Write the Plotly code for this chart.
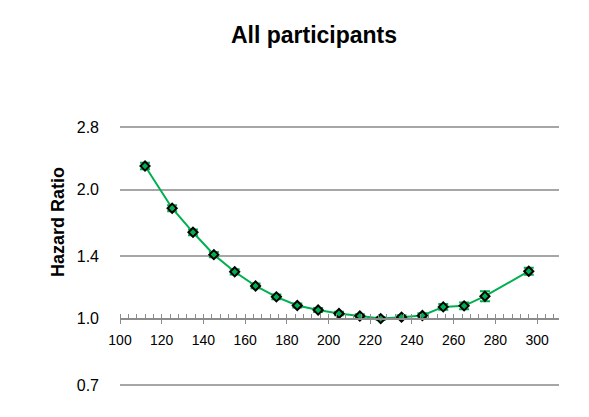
import plotly.graph_objects as go
import math

exposure = [112, 125, 135, 145, 155, 165, 175, 185, 195, 205, 215, 225, 235, 245, 255, 265, 275, 296]
hazard_ratio = [2.27, 1.81, 1.59, 1.41, 1.286, 1.192, 1.124, 1.073, 1.047, 1.028, 1.014, 1.0, 1.008, 1.017, 1.065, 1.071, 1.128, 1.29]
err_upper = [0.04, 0.03, 0.025, 0.02, 0.018, 0.015, 0.014, 0.012, 0.011, 0.01, 0.01, 0.008, 0.01, 0.012, 0.016, 0.02, 0.03, 0.025]
err_lower = [0.04, 0.03, 0.025, 0.02, 0.018, 0.015, 0.014, 0.012, 0.011, 0.01, 0.01, 0.008, 0.01, 0.012, 0.016, 0.02, 0.03, 0.025]

y_ticks = [0.7, 1.0, 1.4, 2.0, 2.8]
y_tick_text = ["0.7", "1.0", "1.4", "2.0", "2.8"]
x_ticks = [100, 120, 140, 160, 180, 200, 220, 240, 260, 280, 300]

GREEN = "#00B050"
OFF = 8  # default body margin of the html page

ymin, ymax = 0.6925, 2.830
pos = math.log(1.0 / ymin) / math.log(ymax / ymin)

fig = go.Figure()
fig.add_trace(go.Scatter(
    x=exposure, y=hazard_ratio, mode="lines+markers",
    line=dict(color=GREEN, width=2),
    marker=dict(symbol="diamond", size=7, color=GREEN, line=dict(color="black", width=2)),
    error_y=dict(type="data", array=err_upper, arrayminus=err_lower, color=GREEN, thickness=2, width=5),
    showlegend=False,
))

fig.add_annotation(
    text="<b>Hazard Ratio</b>", textangle=-90,
    xref="paper", yref="y", x=0, y=math.log10(1.68),
    xshift=-(120 - 58), xanchor="center", yanchor="middle",
    showarrow=False, font=dict(size=18, color="black"),
)

fig.update_layout(
    width=589, height=417,
    margin=dict(l=120 - OFF, r=30 + OFF, t=125 - OFF, b=30 + OFF),
    paper_bgcolor="white", plot_bgcolor="white",
    font=dict(family="Liberation Sans, Arial, sans-serif", color="black"),
    title=dict(text="<b>All participants</b>", x=(314 - OFF) / 589, xref="container", xanchor="center",
               y=1 - (35 - OFF) / 417, yref="container", yanchor="middle",
               font=dict(size=23, color="black")),
    xaxis=dict(
        range=[100, 310.5], tickvals=x_ticks, ticktext=[str(v) for v in x_ticks],
        showgrid=False, zeroline=False,
        showline=True, linecolor="#8c8c8c", linewidth=2,
        ticks="outside", ticklen=4, tickcolor="#8c8c8c", tickwidth=1,
        minor=dict(dtick=4, tick0=100, ticks="inside", ticklen=4, tickcolor="#8c8c8c", tickwidth=1, showgrid=False),
        anchor="free", position=pos,
        ticklabelstandoff=5,
        tickfont=dict(size=14, color="black"),
    ),
    yaxis=dict(
        type="log", range=[math.log10(ymin), math.log10(ymax)],
        tickvals=y_ticks, ticktext=y_tick_text,
        showgrid=True, gridcolor="#a6a6a6", gridwidth=2,
        zeroline=False, showline=False, ticks="",
        ticklabelstandoff=20,
        tickfont=dict(size=16, color="black"),
    ),
)

fig.write_html("out.html")
